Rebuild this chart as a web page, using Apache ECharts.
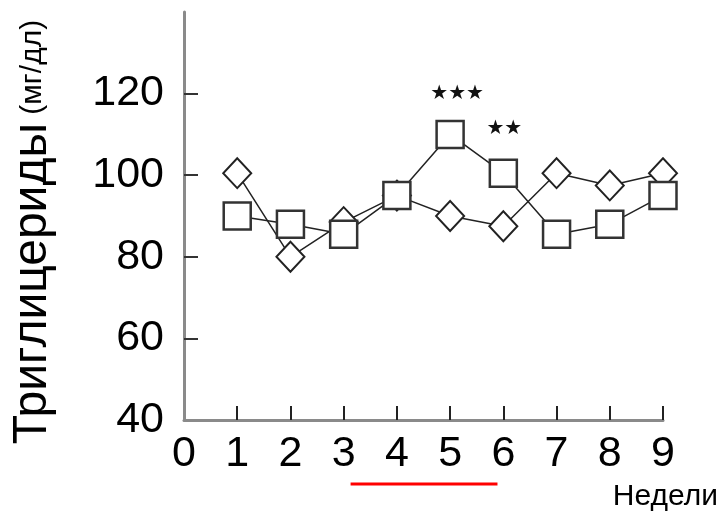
<!DOCTYPE html>
<html>
<head>
<meta charset="utf-8">
<script src="https://cdn.jsdelivr.net/npm/echarts@6/dist/echarts.min.js"></script>
<style>
  html, body { margin: 0; padding: 0; background: #fff; }
  #main { width: 719px; height: 520px; }
</style>
</head>
<body>
<div id="main"></div>
<script>
// data
var weeks = [1, 2, 3, 4, 5, 6, 7, 8, 9];
var squareGroup = [90, 88, 85.5, 95, 110, 100.5, 85.5, 88, 95];
var diamondGroup = [100.5, 80, 88.5, 95, 90, 87.5, 100.5, 97.5, 100.5];
var xTickValues = [1, 2, 3, 4, 5, 6, 7, 8, 9];
var xLabelValues = [0, 1, 2, 3, 4, 5, 6, 7, 8, 9];
var yTickValues = [60, 80, 100, 120];
var yLabelValues = [40, 60, 80, 100, 120];
var starWeeks = [5, 6];
var starMarks = ['★★★', '★★'];
var redSpan = [3.13, 5.89];

var font = 'Liberation Sans, Arial, sans-serif';
var chartDom = document.getElementById('main');
var myChart = echarts.init(chartDom);

function pairs(vals) {
  return weeks.map(function (w, i) {
    var k = starWeeks.indexOf(w);
    var item = { value: [w, vals[i]] };
    if (vals === squareGroup && k >= 0) {
      item.label = {
        show: true, formatter: starMarks[k],
        distance: k === 0 ? 16 : 20,
        offset: k === 0 ? [7, 0] : [1, 0]
      };
    }
    return item;
  });
}

var option = {
  animation: false,
  backgroundColor: '#fff',
  grid: { left: 184, right: 56, top: 12, bottom: 100 },
  xAxis: {
    type: 'value', min: 0, max: 9, interval: 1,
    axisLine: { lineStyle: { color: '#8a8a8a', width: 3 } },
    axisTick: { inside: true, length: 14, customValues: xTickValues, lineStyle: { color: '#222', width: 2 } },
    axisLabel: { customValues: xLabelValues, color: '#000', fontSize: 43, fontFamily: font, margin: 13 },
    splitLine: { show: false }
  },
  yAxis: {
    type: 'value', min: 40, max: 140, interval: 20,
    axisLine: { show: true, lineStyle: { color: '#8a8a8a', width: 3 } },
    axisTick: { show: true, inside: true, length: 14, customValues: yTickValues, lineStyle: { color: '#333', width: 2 } },
    axisLabel: { customValues: yLabelValues, color: '#000', fontSize: 43, fontFamily: font, margin: 20 },
    splitLine: { show: false }
  },
  series: [
    {
      type: 'line',
      data: pairs(diamondGroup),
      symbol: 'diamond',
      symbolSize: [28, 30],
      showAllSymbol: true,
      lineStyle: { color: '#222', width: 1.5 },
      itemStyle: { color: '#fff', borderColor: '#222', borderWidth: 2 },
      clip: false
    },
    {
      type: 'line',
      data: pairs(squareGroup),
      symbol: 'rect',
      symbolSize: 27,
      showAllSymbol: true,
      lineStyle: { color: '#222', width: 1.5 },
      itemStyle: { color: '#fff', borderColor: '#333', borderWidth: 2.5 },
      label: { show: false, position: 'top', color: '#111', fontSize: 20, fontFamily: 'DejaVu Sans' },
      clip: false
    }
  ]
};
myChart.setOption(option);

var p0 = myChart.convertToPixel({ gridIndex: 0 }, [redSpan[0], 40]);
var p1 = myChart.convertToPixel({ gridIndex: 0 }, [redSpan[1], 40]);
myChart.setOption({
  graphic: [
    {
      type: 'line',
      shape: { x1: p0[0], y1: p0[1] + 64, x2: p1[0], y2: p1[1] + 64 },
      style: { stroke: '#f00', lineWidth: 3 }
    },
    {
      type: 'text', right: 1, top: 482,
      style: { text: 'Недели', fill: '#000', font: '30px ' + font }
    },
    {
      type: 'text', x: 33, y: 232, rotation: Math.PI / 2,
      style: {
        text: '{a|Триглицериды}{b| (мг/дл)}',
        align: 'center', verticalAlign: 'middle', fill: '#000',
        rich: {
          a: { fontSize: 48, fontFamily: font, fill: '#000' },
          b: { fontSize: 30, fontFamily: font, fill: '#000' }
        }
      }
    }
  ]
});
</script>
</body>
</html>
